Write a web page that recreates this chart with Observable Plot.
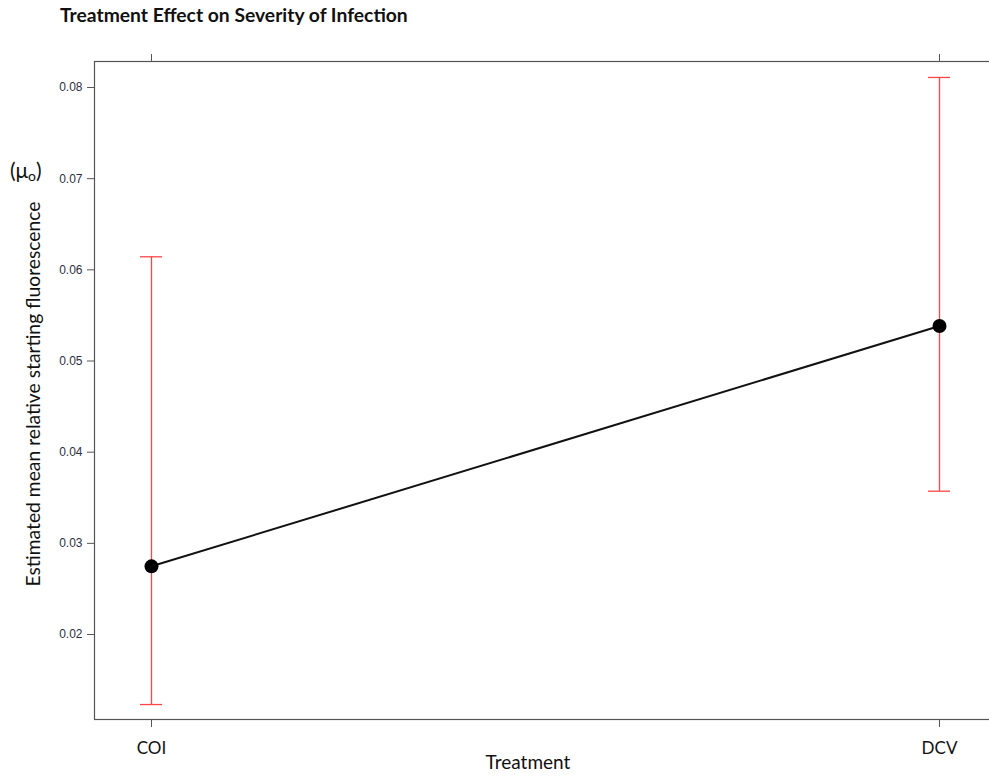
<!DOCTYPE html>
<html>
<head>
<meta charset="utf-8">
<script src="https://cdn.jsdelivr.net/npm/d3@7"></script>
<script src="https://cdn.jsdelivr.net/npm/@observablehq/plot@0.6"></script>
<style>
  html, body { margin: 0; padding: 0; overflow: hidden; background: #fff; }
  body { position: relative; width: 989px; height: 776px; }
  .lbl { position: absolute; font-family: Lato, "Open Sans", sans-serif; color: #111; white-space: nowrap; }
  #title { left: 60px; top: 3px; font-size: 19.3px; font-weight: bold; }
  #ylab { left: 32px; top: 394px; font-size: 19.3px; transform: translate(-50%, -50%) rotate(-90deg); }
  #mu { left: 10px; top: 157px; font-size: 21px; }
  #mu sub { font-size: 14px; vertical-align: -3px; }
  #xlab { left: 528px; top: 761px; font-size: 19px; transform: translate(-50%, -50%); }
  #chart { position: absolute; left: 0; top: 0; width: 1000px; }
  #chart svg { max-width: none !important; }
</style>
</head>
<body>
<div id="chart"></div>
<div class="lbl" id="title">Treatment Effect on Severity of Infection</div>
<div class="lbl" id="mu">(μ<sub>o</sub>)</div>
<div class="lbl" id="ylab">Estimated mean relative starting fluorescence</div>
<div class="lbl" id="xlab">Treatment</div>
<script>
const treatments = ["COI", "DCV"];
const means = [0.02748, 0.05384];
const lower = [0.01232, 0.03572];
const upper = [0.06143, 0.0811];
const yTicks = [0.02, 0.03, 0.04, 0.05, 0.06, 0.07, 0.08];

const data = treatments.map((t, i) => ({ t, mean: means[i], lo: lower[i], hi: upper[i] }));

const chart = Plot.plot({
  width: 1000,
  height: 776,
  marginTop: 61,
  marginBottom: 57,
  marginLeft: 94,
  marginRight: 5,
  style: { fontFamily: "Liberation Sans, Arial, sans-serif", background: "transparent", maxWidth: "none" },
  x: { type: "point", domain: treatments, padding: 0.07098 },
  y: { domain: [0.01068, 0.08285] },
  marks: [
    Plot.frame({ stroke: "#555", strokeWidth: 1.2 }),
    Plot.axisY({ ticks: yTicks, tickFormat: d3.format(".2f"), tickSize: 7, tickPadding: 5, fontSize: 12, stroke: "#555", fill: "#2b3040", label: null }),
    Plot.axisX({ anchor: "bottom", tickSize: 8, tickPadding: 14, fontSize: 17, stroke: "#555", fill: "#111", label: null, fontFamily: "Lato, sans-serif" }),
    Plot.axisX({ anchor: "top", tickSize: 8, tickFormat: () => "", stroke: "#555", label: null }),
    Plot.ruleX(data, { x: "t", y1: "lo", y2: "hi", stroke: "#ff4545", strokeWidth: 1.3 }),
    Plot.ruleY(data, { y: "hi", x1: "t", x2: "t", insetLeft: -11, insetRight: -11, stroke: "#ff4545", strokeWidth: 1.3 }),
    Plot.ruleY(data, { y: "lo", x1: "t", x2: "t", insetLeft: -11, insetRight: -11, stroke: "#ff4545", strokeWidth: 1.3 }),
    Plot.line(data, { x: "t", y: "mean", stroke: "#111", strokeWidth: 2 }),
    Plot.dot(data, { x: "t", y: "mean", r: 7, fill: "#000", stroke: "none" })
  ]
});
document.getElementById("chart").appendChild(chart);
</script>
</body>
</html>
